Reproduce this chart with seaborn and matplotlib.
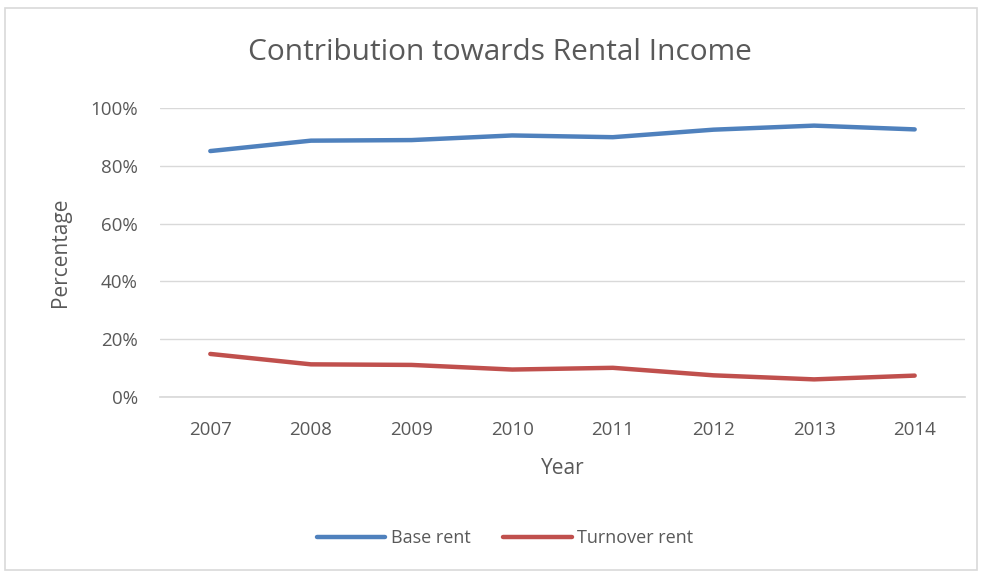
import numpy as np
import pandas as pd
import matplotlib
matplotlib.use("Agg")
import matplotlib.pyplot as plt
import seaborn as sns
from matplotlib.patches import Rectangle
from matplotlib.ticker import PercentFormatter

# ─── Data ────────────────────────────────────────────────────────────────────
years = ["2007", "2008", "2009", "2010", "2011", "2012", "2013", "2014"]
base_rent = [85.1, 88.7, 88.9, 90.5, 89.9, 92.5, 93.9, 92.6]
turnover_rent = [14.9, 11.3, 11.1, 9.5, 10.1, 7.5, 6.1, 7.4]

series_names = ["Base rent", "Turnover rent"]
colours = ["#4F81BD", "#C0504D"]
text_grey = "#595959"

df = pd.DataFrame({
    "Year": years * 2,
    "Percentage": base_rent + turnover_rent,
    "Series": [series_names[0]] * len(years) + [series_names[1]] * len(years),
})
df["pos"] = list(range(len(years))) * 2

sns.set_theme(style="white")
plt.rcParams["font.family"] = ["Open Sans", "DejaVu Sans"]

fig = plt.figure(figsize=(9.83, 5.72), dpi=100)
ax = fig.add_axes([160 / 983, 1 - 397 / 572, 805 / 983, 289 / 572])

sns.lineplot(
    data=df, x="pos", y="Percentage", hue="Series",
    palette=colours, linewidth=3.2, ax=ax, legend=False,
    solid_capstyle="round",
)

ax.set_xlim(-0.5, len(years) - 0.5)
ax.set_ylim(0, 100)
ax.set_yticks(np.arange(0, 101, 20))
ax.yaxis.set_major_formatter(PercentFormatter(decimals=0))
ax.set_xticks(range(len(years)))
ax.set_xticklabels(years)
ax.grid(axis="y", color="#D9D9D9", linewidth=1)
ax.set_axisbelow(True)
for s in ["top", "right", "left"]:
    ax.spines[s].set_visible(False)
ax.spines["bottom"].set_color("#D9D9D9")
ax.tick_params(axis="both", length=0, labelsize=13.5, colors=text_grey)
ax.tick_params(axis="x", pad=17)
ax.tick_params(axis="y", pad=16)

ax.set_xlabel("Year", fontsize=15, color=text_grey, labelpad=14)
ax.set_ylabel("Percentage", fontsize=15, color=text_grey, labelpad=14)

fig.text(500 / 983, 1 - 53 / 572, "Contribution towards Rental Income",
         ha="center", va="center", fontsize=21.5, color=text_grey)

# legend at the bottom
handles = [plt.Line2D([], [], color=c, linewidth=3.2, solid_capstyle="round")
           for c in colours]
fig.legend(handles, series_names, loc="center", bbox_to_anchor=(505 / 983, 1 - 538 / 572),
           ncol=2, frameon=False, fontsize=13, labelcolor=text_grey,
           handlelength=3.8, handletextpad=0.3, columnspacing=1.8)

# light chart-area border
fig.patches.append(Rectangle((5 / 983, 2 / 572), 972 / 983, 562 / 572,
                             transform=fig.transFigure, fill=False,
                             edgecolor="#D9D9D9", linewidth=1.2))

fig.savefig("out.png", dpi=100)
